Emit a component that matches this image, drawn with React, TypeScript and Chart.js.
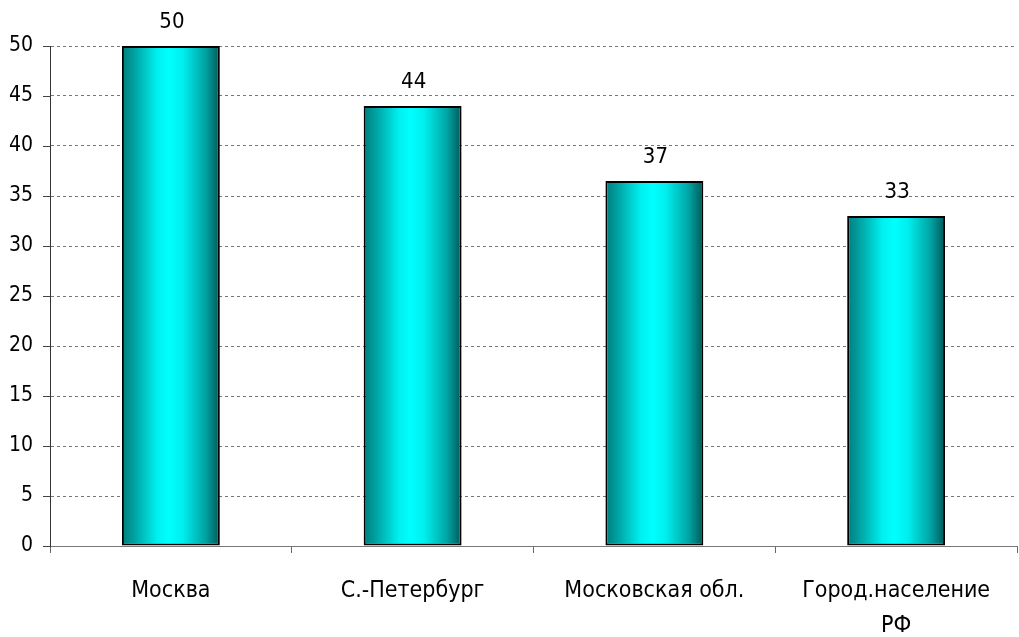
import React, { useEffect, useRef } from "react";
import { Chart, registerables } from "chart.js";

Chart.register(...registerables);

const categories: (string | string[])[] = ["Москва", "С.-Петербург", "Московская обл.", ["Город.население", "РФ"]];
const values = [50, 44, 36.5, 33];
const valueLabels = ["50", "44", "37", "33"];
const yTicks = [0, 5, 10, 15, 20, 25, 30, 35, 40, 45, 50];

const FONT = '"Liberation Sans Narrow", "Arial Narrow", "DejaVu Sans Condensed", sans-serif';
const BAR_PCT = 0.405;

const valueLabelPlugin = {
  id: "valueLabels",
  afterDatasetsDraw(chart: any) {
    const ctx = chart.ctx;
    const meta = chart.getDatasetMeta(0);
    ctx.save();
    ctx.font = `22px ${FONT}`;
    ctx.fillStyle = "#000";
    ctx.textAlign = "center";
    ctx.textBaseline = "alphabetic";
    meta.data.forEach((el: any, i: number) => {
      ctx.fillText(valueLabels[i], el.x + 1, el.y - 18);
    });
    ctx.restore();
  },
};

const yTickMarks = {
  id: "yTickMarks",
  afterDraw(chart: any) {
    const y = chart.scales.y;
    const ctx = chart.ctx;
    ctx.save();
    ctx.strokeStyle = "#444";
    ctx.lineWidth = 1;
    y.ticks.forEach((t: any) => {
      const py = Math.round(y.getPixelForValue(t.value)) + 0.5;
      ctx.beginPath();
      ctx.moveTo(y.right - 7, py);
      ctx.lineTo(y.right, py);
      ctx.stroke();
    });
    ctx.restore();
  },
};

export default function App() {
  const ref = useRef<HTMLCanvasElement | null>(null);
  useEffect(() => {
    document.body.style.margin = "0";
    const chart = new Chart(ref.current!, {
      type: "bar",
      data: {
        labels: categories,
        datasets: [
          {
            data: values,
            backgroundColor: (ctx: any) => {
              const c = ctx.chart;
              const x = c.scales.x;
              if (!x || !c.chartArea) return "#00e0e0";
              const center = x.getPixelForValue(ctx.dataIndex);
              const half = ((c.chartArea.right - c.chartArea.left) / categories.length) * BAR_PCT / 2;
              const g = c.ctx.createLinearGradient(center - half, 0, center + half, 0);
              g.addColorStop(0, "#007c7c");
              g.addColorStop(0.12, "#00a0a0");
              g.addColorStop(0.36, "#00f0f0");
              g.addColorStop(0.48, "#00ffff");
              g.addColorStop(0.62, "#00eeee");
              g.addColorStop(0.85, "#00a4a4");
              g.addColorStop(1, "#005858");
              return g;
            },
            borderColor: "#000",
            borderWidth: 2,
            borderSkipped: false,
            categoryPercentage: 1,
            barPercentage: BAR_PCT,
          },
        ],
      },
      options: {
        animation: false,
        responsive: false,
        maintainAspectRatio: false,
        layout: { padding: { top: 46, right: 2, left: 0, bottom: 0 } },
        plugins: { legend: { display: false }, tooltip: { enabled: false } },
        scales: {
          x: {
            offset: true,
            grid: { offset: true, drawOnChartArea: false, drawTicks: true, tickLength: 7, color: "#666" },
            border: { color: "#777", width: 1 },
            ticks: {
              color: "#000",
              padding: 21,
              maxRotation: 0,
              autoSkip: false,
              font: { family: FONT, size: 23, lineHeight: 1.52 },
            },
            afterFit: (s: any) => {
              s.height = 91;
            },
          },
          y: {
            min: 0,
            max: 50,
            afterBuildTicks: (s: any) => {
              s.ticks = yTicks.map((v) => ({ value: v }));
            },
            grid: { color: "#777", drawTicks: false, lineWidth: 1 },
            border: { color: "#333", width: 1, dash: [3, 3] },
            ticks: {
              color: "#000",
              padding: 17,
              font: { family: FONT, size: 21 },
            },
            afterFit: (s: any) => {
              s.width = 50;
            },
          },
        },
      },
      plugins: [valueLabelPlugin, yTickMarks],
    } as any);
    return () => chart.destroy();
  }, []);
  return <canvas ref={ref} width={1019} height={637} style={{ display: "block" }} />;
}
